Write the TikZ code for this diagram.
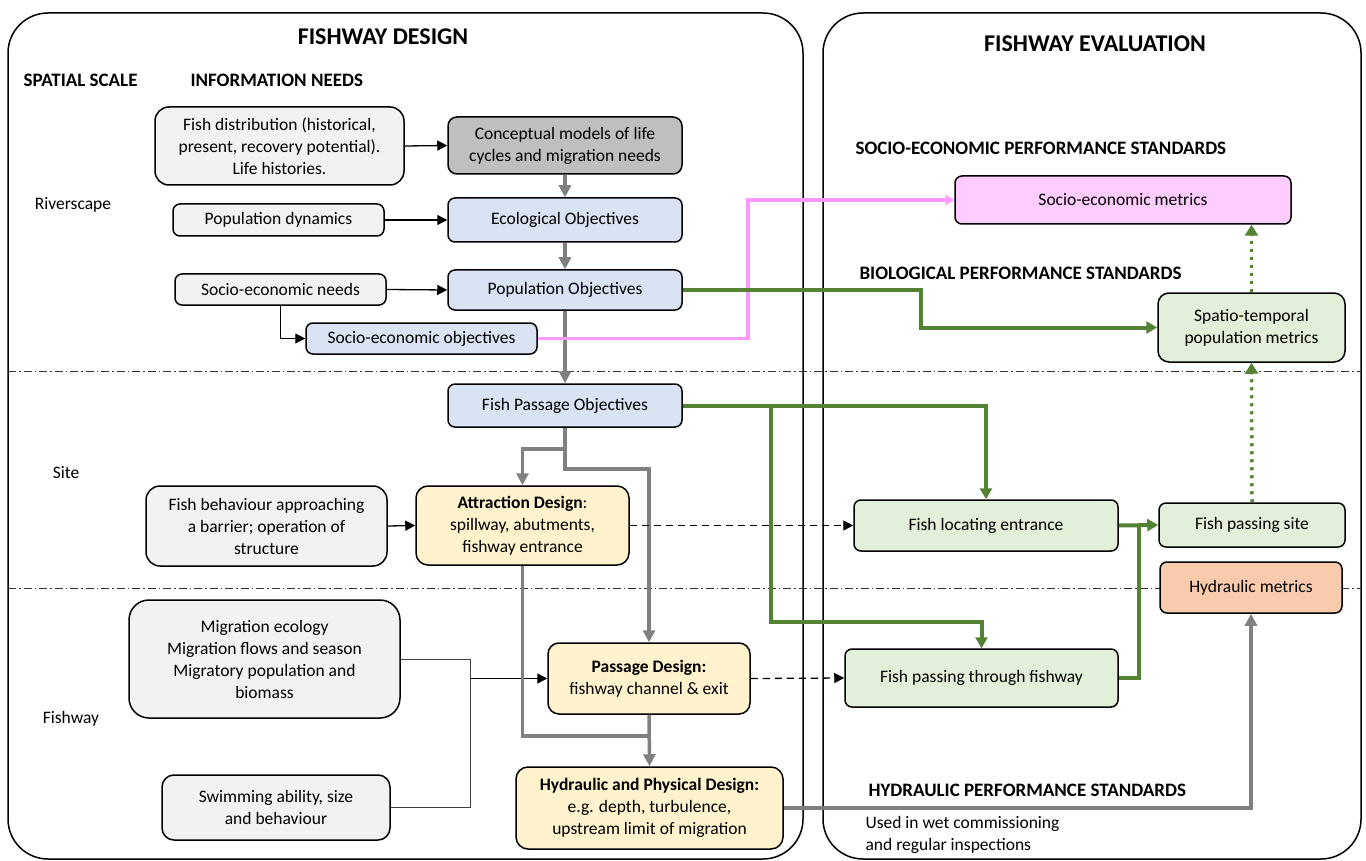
\documentclass[tikz,border=0pt]{standalone}
\usepackage{fontspec}
\setmainfont{Carlito}
\usetikzlibrary{arrows.meta}

\definecolor{boxgrey}{HTML}{F2F2F2}
\definecolor{boxdark}{HTML}{BFBFBF}
\definecolor{boxblue}{HTML}{DAE3F3}
\definecolor{boxyellow}{HTML}{FFF2CC}
\definecolor{boxgreen}{HTML}{E2F0D9}
\definecolor{boxpink}{HTML}{FFCCFF}
\definecolor{boxorange}{HTML}{F8CBAD}
\definecolor{linegrey}{HTML}{808080}
\definecolor{linegreen}{HTML}{548235}
\definecolor{linepink}{HTML}{FF99FF}

\begin{document}
\begin{tikzpicture}[
        x=1pt, y=-1pt,
        box/.style={draw, line width=1.5pt, rounded corners=7pt, align=center,
            inner sep=2pt, font=\fontsize{17.5}{22}\selectfont},
        info/.style={box, fill=boxgrey},
        objective/.style={box, fill=boxblue},
        design/.style={box, fill=boxyellow},
        metric/.style={box, fill=boxgreen},
        heading/.style={font=\bfseries\fontsize{24}{28}\selectfont},
        subheading/.style={font=\bfseries\fontsize{19}{23}\selectfont, anchor=west},
        scalelabel/.style={font=\fontsize{17.5}{22}\selectfont},
        thin arrow/.style={draw, line width=1.3pt, -{Triangle[length=10pt,width=10pt]}},
        thin line/.style={draw=black!75, line width=1pt},
        grey arrow/.style={draw=linegrey, line width=3.5pt, -{Triangle[length=12pt,width=12pt]}},
        grey line/.style={draw=linegrey, line width=3.5pt},
        green arrow/.style={draw=linegreen, line width=4pt, -{Triangle[length=11pt,width=12pt]}},
        green line/.style={draw=linegreen, line width=4pt},
        green dotted/.style={draw=linegreen, line width=3.5pt, dash pattern=on 3pt off 5pt,
            -{Triangle[length=11pt,width=13pt]}},
        pink arrow/.style={draw=linepink, line width=3.5pt, -{Triangle[length=9pt,width=10pt]}},
        dashed arrow/.style={draw, line width=1.3pt, dash pattern=on 7pt off 5pt,
            -{Triangle[length=10pt,width=10pt]}},
        zone line/.style={draw=black!80, line width=0.9pt, dash pattern=on 8pt off 3pt on 1.5pt off 3pt},
    ]
    \useasboundingbox (0,0) rectangle (1366,861);

    % frames and zones
    \draw[line width=1.5pt, rounded corners=40pt] (8,13) rectangle (803,859);
    \draw[line width=1.5pt, rounded corners=40pt] (823,13) rectangle (1361,859);
    \draw[zone line] (8,371) -- (1361,371);
    \draw[zone line] (8,588) -- (1361,588);

    \node[heading] (design) at (383,37) {FISHWAY DESIGN};
    \node[heading] (evaluation) at (1095,44) {FISHWAY EVALUATION};
    \node[subheading] (spatial) at (20,80) {SPATIAL SCALE};
    \node[subheading] (needs) at (187,80) {INFORMATION NEEDS};
    \node[scalelabel] (riverscape) at (73,205) {Riverscape};
    \node[scalelabel] (site) at (66,473) {Site};
    \node[scalelabel] (fishway) at (71,719) {Fishway};
    \node[subheading] (socstd) at (852,148) {SOCIO-ECONOMIC PERFORMANCE STANDARDS};
    \node[subheading] (biostd) at (856,273) {BIOLOGICAL PERFORMANCE STANDARDS};
    \node[subheading] (hydstd) at (865,790) {HYDRAULIC PERFORMANCE STANDARDS};
    \node[scalelabel, anchor=west, align=left] (used) at (862,834.5)
        {Used in wet commissioning\\and regular inspections};

    % design side
    \node[info, rounded corners=14pt, minimum width=249pt, minimum height=78pt] (fishdist) at (279.5,146)
        {Fish distribution (historical,\\present, recovery potential).\\Life histories.};
    \node[box, fill=boxdark, rounded corners=9pt, minimum width=234pt, minimum height=57pt] (concept) at (565,145.5)
        {Conceptual models of life\\cycles and migration needs};
    \node[info, minimum width=211pt, minimum height=32pt] (popdyn) at (278.5,220) {Population dynamics};
    \node[objective, minimum width=234pt, minimum height=44pt] (ecoobj) at (565,220) {Ecological Objectives};
    \node[info, minimum width=211pt, minimum height=31pt] (socneeds) at (280.5,289.5) {Socio-economic needs};
    \node[objective, minimum width=234pt, minimum height=40pt] (popobj) at (565,290) {Population Objectives};
    \node[objective, minimum width=231pt, minimum height=31pt] (socobj) at (421.5,338.5) {Socio-economic objectives};
    \node[objective, minimum width=234pt, minimum height=43pt] (fpobj) at (565,405.5) {Fish Passage Objectives};
    \node[info, rounded corners=14pt, minimum width=241pt, minimum height=80pt] (fishbeh) at (266.5,526)
        {Fish behaviour approaching\\a barrier; operation of\\structure};
    \node[design, rounded corners=12pt, minimum width=213pt, minimum height=79pt] (attract) at (522.5,525.5)
        {\textbf{Attraction Design}:\\spillway, abutments,\\fishway entrance};
    \node[info, rounded corners=20pt, minimum width=271pt, minimum height=118pt] (migeco) at (264.5,659)
        {Migration ecology\\Migration flows and season\\Migratory population and\\biomass};
    \node[info, rounded corners=12pt, minimum width=228pt, minimum height=65pt] (swim) at (276,807.5)
        {Swimming ability, size\\and behaviour};
    \node[design, rounded corners=11pt, minimum width=202pt, minimum height=71pt] (passage) at (649,678.5)
        {\textbf{Passage Design:}\\fishway channel \& exit};
    \node[design, rounded corners=12pt, minimum width=267pt, minimum height=82pt] (hydro) at (649.5,808)
        {\textbf{Hydraulic and Physical Design:}\\e.g. depth, turbulence,\\upstream limit of migration};

    % evaluation side
    \node[box, fill=boxpink, minimum width=336pt, minimum height=48pt] (socmet) at (1123,200) {Socio-economic metrics};
    \node[metric, rounded corners=11pt, minimum width=187pt, minimum height=69pt] (spatio) at (1251.5,327.5)
        {Spatio-temporal\\population metrics};
    \node[metric, minimum width=264pt, minimum height=51pt] (locate) at (986,525.5) {Fish locating entrance};
    \node[metric, minimum width=186pt, minimum height=44pt] (passsite) at (1252,525) {Fish passing site};
    \node[box, fill=boxorange, minimum width=182pt, minimum height=51pt] (hydmet) at (1251,587.5) {Hydraulic metrics};
    \node[metric, minimum width=273pt, minimum height=58pt] (passthru) at (981.5,678) {Fish passing through fishway};

    \coordinate (fpsplit) at (565,449);
    \coordinate (hjoin) at (649,736);
    \coordinate (migjoin) at (470,678.5);
    \coordinate (gsplit) at (771,405.5);
    \coordinate (gjoin) at (1139,525.5);

    % information needs
    \draw[thin arrow] (fishdist.east) -- (concept.west);
    \draw[thin arrow] (popdyn.east) -- (ecoobj.west);
    \draw[thin arrow] (socneeds.east) -- (popobj.west);
    \draw[thin line, -{Triangle[length=10pt,width=10pt]}, black] (socneeds.south) |- (socobj.west);
    \draw[thin arrow] (fishbeh.east) -- (attract.west);
    \draw[thin line] (migeco.east) -| (migjoin);
    \draw[thin line] (swim.east) -| (migjoin);
    \draw[thin arrow] (migjoin) -- (passage.west);

    % design flow
    \draw[grey arrow] (concept.south) -- (ecoobj.north);
    \draw[grey arrow] (ecoobj.south) -- (popobj.north);
    \draw[grey arrow] (popobj.south) -- (fpobj.north);
    \draw[grey arrow] (fpobj.south) -- ++(0,41) -| (passage.north);
    \draw[grey arrow] (fpsplit) -| (attract.north);
    \draw[grey line] (attract.south) |- (hjoin);
    \draw[grey arrow] (passage.south) -- (hydro.north);
    \draw[grey arrow] (hydro.east) -| (hydmet.south);

    % evaluation links
    \draw[pink arrow] (socobj.east) -- ++(210,0) |- (socmet.west);
    \draw[green arrow] (popobj.east) -- ++(238,0) |- (spatio.west);
    \draw[dashed arrow] (attract.east) -- (locate.west);
    \draw[dashed arrow] (passage.east) -- (passthru.west);
    \draw[green arrow] (fpobj.east) -| (locate.north);
    \draw[green arrow] (gsplit) -- ++(0,216.5) -| (passthru.north);
    \draw[green arrow] (locate.east) -- (passsite.west);
    \draw[green line] (passthru.east) -| (gjoin);
    \draw[green dotted] (passsite.north) -- (spatio.south);
    \draw[green dotted] (spatio.north) -- (spatio.north |- socmet.south);

\end{tikzpicture}
\end{document}
